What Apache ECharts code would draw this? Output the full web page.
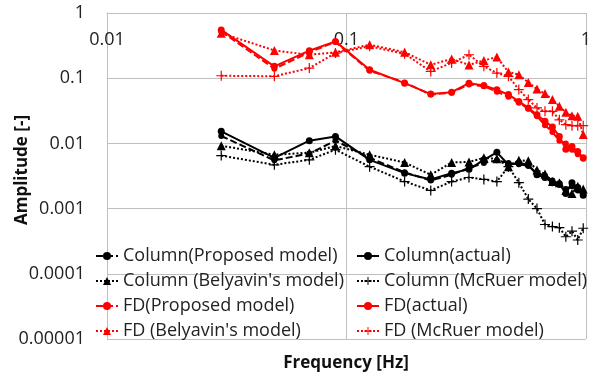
<!DOCTYPE html>
<html>
<head>
<meta charset="utf-8">
<script src="https://cdn.jsdelivr.net/npm/echarts@6/dist/echarts.min.js"></script>
<style>
  html, body { margin: 0; padding: 0; background: #fff; }
  #chart { width: 594px; height: 383px; }
</style>
</head>
<body>
<div id="chart"></div>
<script>
// frequency points [Hz]
const freq = [0.03, 0.05, 0.07, 0.09, 0.125, 0.175, 0.225, 0.275, 0.325, 0.375, 0.425,
  0.475, 0.525, 0.575, 0.625, 0.675, 0.725, 0.775, 0.825, 0.875, 0.925, 0.975];

// Column amplitudes
const colProposed = [0.013, 0.0055, 0.0070, 0.0110, 0.0060, 0.0036, 0.0027, 0.0033, 0.0042, 0.0050, 0.0055,
  0.0050, 0.0048, 0.0045, 0.0035, 0.0032, 0.0027, 0.0023, 0.0020, 0.0022, 0.0019, 0.0017];
const colActual = [0.0153, 0.0060, 0.0110, 0.0128, 0.0056, 0.0035, 0.0028, 0.0035, 0.0040, 0.0056, 0.0073,
  0.0047, 0.0050, 0.0047, 0.0033, 0.0030, 0.0025, 0.0024, 0.0017, 0.0025, 0.0021, 0.0016];
const colBelyavin = [0.0092, 0.0067, 0.0072, 0.0091, 0.0067, 0.0051, 0.0033, 0.0051, 0.0052, 0.0060, 0.0058,
  0.0044, 0.0055, 0.0054, 0.0039, 0.0034, 0.0026, 0.0025, 0.0019, 0.0017, 0.0022, 0.0020];
const colMcRuer = [0.0065, 0.0047, 0.0056, 0.0080, 0.0044, 0.0026, 0.0019, 0.0026, 0.0030, 0.0028, 0.0026,
  0.0044, 0.0025, 0.0014, 0.0010, 0.00057, 0.00053, 0.00051, 0.00037, 0.00045, 0.00033, 0.0005];

// FD amplitudes
const fdProposed = [0.52, 0.14, 0.25, 0.36, 0.13, 0.086, 0.056, 0.060, 0.080, 0.075, 0.062,
  0.052, 0.042, 0.034, 0.026, 0.019, 0.015, 0.011, 0.010, 0.0080, 0.0068, 0.0058];
const fdActual = [0.55, 0.152, 0.264, 0.367, 0.135, 0.084, 0.057, 0.061, 0.084, 0.0775, 0.0664,
  0.056, 0.044, 0.035, 0.0276, 0.0218, 0.0179, 0.0128, 0.0081, 0.0090, 0.0075, 0.0060];
const fdBelyavin = [0.49, 0.267, 0.229, 0.249, 0.327, 0.25, 0.161, 0.197, 0.16, 0.187, 0.211,
  0.124, 0.113, 0.086, 0.068, 0.058, 0.047, 0.037, 0.030, 0.0266, 0.026, 0.0137];
const fdMcRuer = [0.109, 0.107, 0.143, 0.243, 0.308, 0.237, 0.127, 0.171, 0.229, 0.152, 0.12,
  0.107, 0.067, 0.047, 0.035, 0.031, 0.031, 0.023, 0.0194, 0.0187, 0.0187, 0.0187];

const FONT = 'Open Sans';
const PLUS = 'path://M0,4.4H10V5.6H0ZM4.4,0H5.6V10H4.4Z';

const pairs = (ys) => freq.map((f, i) => [f, ys[i]]);

const makeSeries = (name, ys, color, lineType, symbol, size) => ({
  name: name,
  type: 'line',
  data: pairs(ys),
  symbol: symbol,
  symbolSize: size,
  showAllSymbol: true,
  color: color,
  lineStyle: { color: color, width: 2, type: lineType },
  itemStyle: { color: color },
  emphasis: { disabled: true },
  animation: false
});

const legendText = { fontFamily: FONT, fontSize: 18, color: '#222', lineHeight: 18 };

const chart = echarts.init(document.getElementById('chart'));
const option = {
  backgroundColor: '#fff',
  textStyle: { fontFamily: FONT },
  grid: { left: 107, right: 8, top: 13, bottom: 44 },
  xAxis: {
    type: 'log',
    logBase: 10,
    min: 0.01,
    max: 1,
    position: 'top',
    axisLine: { show: true, lineStyle: { color: '#bfbfbf', width: 1 } },
    axisTick: { show: false },
    axisLabel: {
      inside: true,
      margin: 18,
      color: '#222',
      fontSize: 18,
      fontFamily: FONT,
      formatter: (v) => String(v)
    },
    splitLine: { show: true, lineStyle: { color: '#bfbfbf', width: 1 } }
  },
  yAxis: {
    type: 'log',
    logBase: 10,
    min: 0.00001,
    max: 1,
    axisLine: { show: true, lineStyle: { color: '#bfbfbf', width: 1 } },
    axisTick: { show: false },
    axisLabel: {
      margin: 22,
      color: '#222',
      fontSize: 18,
      fontFamily: FONT,
      formatter: (v) => {
        const e = Math.round(Math.log10(v));
        return e >= 0 ? '1' : v.toFixed(-e);
      }
    },
    splitLine: { show: true, lineStyle: { color: '#bfbfbf', width: 1 } }
  },
  legend: [
    {
      data: ['Column(Proposed model)', "Column (Belyavin's model)", 'FD(Proposed model)', "FD (Belyavin's model)"],
      orient: 'vertical',
      left: 95,
      top: 247,
      itemWidth: 22,
      itemHeight: 10,
      itemGap: 7,
      padding: 0,
      textStyle: legendText
    },
    {
      data: ['Column(actual)', 'Column (McRuer model)', 'FD(actual)', 'FD (McRuer model)'],
      orient: 'vertical',
      left: 356,
      top: 247,
      itemWidth: 22,
      itemHeight: 10,
      itemGap: 7,
      padding: 0,
      textStyle: legendText
    }
  ],
  graphic: [
    {
      type: 'text',
      x: 346,
      y: 363,
      style: {
        text: 'Frequency [Hz]', font: 'bold 17px "Open Sans"', fill: '#111',
        align: 'center', verticalAlign: 'middle'
      }
    },
    {
      type: 'text',
      x: 22,
      y: 170,
      rotation: Math.PI / 2,
      style: {
        text: 'Amplitude [-]', font: 'bold 17px "Open Sans"', fill: '#111',
        align: 'center', verticalAlign: 'middle'
      }
    }
  ],
  series: [
    makeSeries('Column(Proposed model)', colProposed, '#000', [7, 3], 'circle', 6),
    makeSeries("Column (Belyavin's model)", colBelyavin, '#000', [2, 2], 'triangle', 9),
    makeSeries('FD(Proposed model)', fdProposed, '#ff0000', [7, 3], 'circle', 6),
    makeSeries("FD (Belyavin's model)", fdBelyavin, '#ff0000', [2, 2], 'triangle', 9),
    makeSeries('Column(actual)', colActual, '#000', 'solid', 'circle', 7),
    makeSeries('Column (McRuer model)', colMcRuer, '#000', [2, 2], PLUS, 10),
    makeSeries('FD(actual)', fdActual, '#ff0000', 'solid', 'circle', 7),
    makeSeries('FD (McRuer model)', fdMcRuer, '#ff0000', [2, 2], PLUS, 10)
  ]
};
chart.setOption(option);
</script>
</body>
</html>
